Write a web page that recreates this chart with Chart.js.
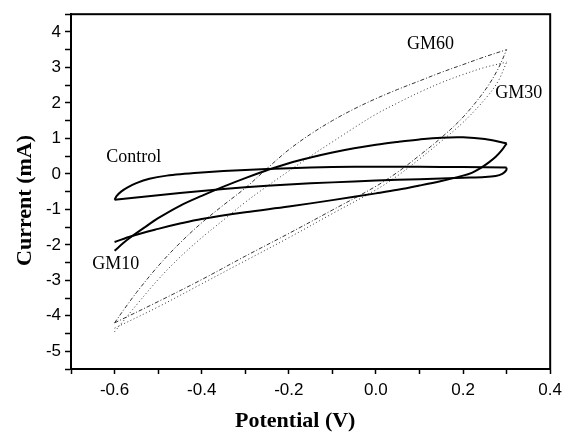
<!DOCTYPE html>
<html>
<head>
<meta charset="utf-8">
<script src="https://cdn.jsdelivr.net/npm/chart.js@4/dist/chart.umd.min.js"></script>
<style>
html,body{margin:0;padding:0;background:#fff;}
#wrap{width:568px;height:432px;}
</style>
</head>
<body>
<div id="wrap"><canvas id="c" width="568" height="432"></canvas></div>
<script>
// ---- Data (Potential V / Current mA) ----
const ctrlFwdV = [-0.6, -0.595, -0.585, -0.57, -0.55, -0.52, -0.48, -0.44, -0.4, -0.3, -0.2, -0.1, 0.0, 0.1, 0.2, 0.3];
const ctrlFwdI = [-0.73, -0.62, -0.5, -0.38, -0.26, -0.14, -0.05, 0.0, 0.04, 0.11, 0.16, 0.19, 0.2, 0.2, 0.19, 0.18];
const ctrlRevV = [0.3, 0.299, 0.29, 0.275, 0.25, 0.2, 0.1, 0.0, -0.1, -0.2, -0.3, -0.4, -0.5, -0.6];
const ctrlRevI = [0.18, 0.1, 0.0, -0.06, -0.09, -0.11, -0.15, -0.19, -0.24, -0.3, -0.38, -0.48, -0.6, -0.73];

const gm10FwdV = [-0.6, -0.58, -0.56, -0.53, -0.5, -0.45, -0.4, -0.35, -0.3, -0.25, -0.2, -0.15, -0.1, -0.05, 0.0, 0.05, 0.1, 0.15, 0.2, 0.25, 0.3];
const gm10FwdI = [-2.17, -1.95, -1.76, -1.5, -1.25, -0.9, -0.62, -0.36, -0.12, 0.1, 0.3, 0.46, 0.6, 0.72, 0.82, 0.9, 0.97, 1.02, 1.03, 0.98, 0.86];
const gm10RevV = [0.3, 0.29, 0.275, 0.26, 0.24, 0.22, 0.2, 0.15, 0.1, 0.05, 0.0, -0.1, -0.2, -0.3, -0.4, -0.45, -0.5, -0.56, -0.6];
const gm10RevI = [0.86, 0.68, 0.48, 0.33, 0.16, 0.03, -0.05, -0.2, -0.33, -0.45, -0.55, -0.74, -0.92, -1.08, -1.27, -1.4, -1.55, -1.75, -1.92];

const gm60UpV = [-0.6, -0.58, -0.55, -0.5, -0.45, -0.4, -0.35, -0.3, -0.25, -0.2, -0.15, -0.1, -0.05, 0.0, 0.05, 0.1, 0.15, 0.2, 0.25, 0.3];
const gm60UpI = [-4.2, -3.85, -3.35, -2.6, -1.95, -1.38, -0.88, -0.4, 0.15, 0.68, 1.12, 1.5, 1.83, 2.12, 2.38, 2.62, 2.86, 3.08, 3.3, 3.5];
const gm60LoV = [-0.6, -0.5, -0.4, -0.3, -0.2, -0.1, 0.0, 0.05, 0.1, 0.15, 0.2, 0.25, 0.28, 0.3];
const gm60LoI = [-4.2, -3.6, -2.98, -2.32, -1.68, -1.02, -0.35, 0.05, 0.52, 1.02, 1.6, 2.35, 2.95, 3.5];

const gm30UpV = [-0.6, -0.58, -0.55, -0.5, -0.45, -0.4, -0.35, -0.3, -0.25, -0.2, -0.15, -0.1, -0.05, 0.0, 0.05, 0.1, 0.15, 0.2, 0.25, 0.3];
const gm30UpI = [-4.45, -4.15, -3.7, -2.98, -2.35, -1.8, -1.3, -0.8, -0.35, 0.08, 0.5, 0.9, 1.3, 1.68, 2.0, 2.3, 2.57, 2.8, 3.0, 3.15];
const gm30LoV = [-0.6, -0.5, -0.4, -0.3, -0.2, -0.1, 0.0, 0.05, 0.1, 0.15, 0.2, 0.25, 0.28, 0.3];
const gm30LoI = [-4.35, -3.75, -3.1, -2.45, -1.8, -1.12, -0.45, -0.05, 0.42, 0.92, 1.45, 2.1, 2.6, 3.15];

// ---- Axis ticks ----
const xTickValues = [-0.7, -0.6, -0.5, -0.4, -0.3, -0.2, -0.1, 0.0, 0.1, 0.2, 0.3, 0.4];
const xTickLabels = ['', '-0.6', '', '-0.4', '', '-0.2', '', '0.0', '', '0.2', '', '0.4'];
const yTickValues = [-5.5, -5, -4.5, -4, -3.5, -3, -2.5, -2, -1.5, -1, -0.5, 0, 0.5, 1, 1.5, 2, 2.5, 3, 3.5, 4, 4.5];
const yTickLabels = ['', '-5', '', '-4', '', '-3', '', '-2', '', '-1', '', '0', '', '1', '', '2', '', '3', '', '4', ''];

// ---- Curve annotations ----
const noteTexts = ['Control', 'GM10', 'GM60', 'GM30'];
const noteV = [-0.556, -0.597, 0.125, 0.328];
const noteI = [0.47, -2.54, 3.65, 2.27];

const xTitle = 'Potential (V)';
const yTitle = 'Current (mA)';

const pts = (v, i) => v.map((x, k) => ({x: x, y: i[k]}));

const solid = (data) => ({data, showLine: true, borderColor: '#000', borderWidth: 2, pointRadius: 0, tension: 0.35, fill: false});
const dashed = (data, dash) => ({data, showLine: true, borderColor: '#333', borderWidth: 1, borderDash: dash, pointRadius: 0, tension: 0.35, fill: false});

const framePlugin = {
  id: 'frame',
  afterDraw(chart) {
    const {ctx, chartArea: a} = chart;
    ctx.save();
    ctx.strokeStyle = '#000';
    ctx.lineWidth = 2;
    ctx.strokeRect(a.left, a.top, a.right - a.left, a.bottom - a.top);
    ctx.restore();
  }
};

const textPlugin = {
  id: 'texts',
  afterDraw(chart) {
    const {ctx, chartArea: a, scales} = chart;
    ctx.save();
    ctx.fillStyle = '#000';
    ctx.textAlign = 'center';
    ctx.textBaseline = 'middle';
    ctx.font = '18px "Liberation Serif", "Times New Roman", serif';
    noteTexts.forEach((t, k) => {
      ctx.fillText(t, scales.x.getPixelForValue(noteV[k]), scales.y.getPixelForValue(noteI[k]));
    });
    ctx.font = 'bold 22px "Liberation Serif", "Times New Roman", serif';
    ctx.fillText(xTitle, a.left + (a.right - a.left) * 0.468, a.bottom + 52);
    ctx.translate(25, a.top + (a.bottom - a.top) * 0.525);
    ctx.rotate(-Math.PI / 2);
    ctx.fillText(yTitle, 0, 0);
    ctx.restore();
  }
};

new Chart(document.getElementById('c'), {
  type: 'scatter',
  data: {
    datasets: [
      solid(pts(ctrlFwdV, ctrlFwdI)),
      solid(pts(ctrlRevV, ctrlRevI)),
      solid(pts(gm10FwdV, gm10FwdI)),
      solid(pts(gm10RevV, gm10RevI)),
      dashed(pts(gm60UpV, gm60UpI), [4, 2, 1, 2]),
      dashed(pts(gm60LoV, gm60LoI), [4, 2, 1, 2]),
      dashed(pts(gm30UpV, gm30UpI), [1, 2.5]),
      dashed(pts(gm30LoV, gm30LoI), [1, 2.5])
    ]
  },
  options: {
    responsive: false,
    animation: false,
    events: [],
    layout: {padding: {top: 12, right: 14, left: 0, bottom: 0}},
    plugins: {legend: {display: false}, tooltip: {enabled: false}},
    scales: {
      x: {
        type: 'linear', min: -0.7, max: 0.4,
        afterBuildTicks: (s) => { s.ticks = xTickValues.map(v => ({value: v})); },
        afterFit: (s) => { s.height = 63; },
        ticks: {
          autoSkip: false, maxRotation: 0, minRotation: 0, padding: 6, color: '#000',
          font: {family: '"Liberation Sans", Arial, sans-serif', size: 17},
          callback: (v, idx) => xTickLabels[idx]
        },
        grid: {drawOnChartArea: false, drawTicks: true, tickLength: 5, tickColor: '#000', tickWidth: 1.5},
        border: {display: true, color: '#000', width: 2}
      },
      y: {
        type: 'linear', min: -5.5, max: 4.5,
        afterBuildTicks: (s) => { s.ticks = yTickValues.map(v => ({value: v})); },
        afterFit: (s) => { s.width = 71; },
        ticks: {
          autoSkip: false, padding: 4, color: '#000',
          font: {family: '"Liberation Sans", Arial, sans-serif', size: 17},
          callback: (v, idx) => yTickLabels[idx]
        },
        grid: {drawOnChartArea: false, drawTicks: true, tickLength: 6, tickColor: '#000', tickWidth: 1.5},
        border: {display: true, color: '#000', width: 2}
      }
    }
  },
  plugins: [framePlugin, textPlugin]
});
</script>
</body>
</html>
